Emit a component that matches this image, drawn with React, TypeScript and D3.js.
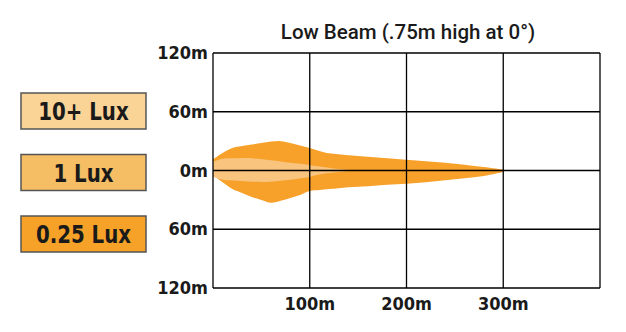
import { useEffect, useRef } from 'react';
import * as d3 from 'd3';

// distance down the road (m)
const distances = [0, 10, 20, 30, 40, 50, 60, 70, 80, 90, 100, 110, 120, 140, 160, 180, 200, 220, 240, 260, 280, 300];
// 0.25 lux outline, lateral spread (m)
const outerUpper = [11.5, 18, 23, 25, 26.5, 28, 29.5, 30, 28, 25.5, 23, 20, 17.5, 15.5, 14, 12.5, 11, 9.5, 8, 6, 3.5, 1];
const outerLower = [-4.5, -12, -19, -23, -27, -30, -33, -31, -28, -25, -21, -20, -19, -17, -16, -14.5, -13.5, -12, -10, -8, -5.5, -1.5];

// 1 lux band
const innerDistances = [0, 10, 25, 40, 60, 80, 95, 110, 125, 142];
const innerUpper = [9, 12, 12.5, 12.5, 10.5, 8, 6.5, 4, 2, 0.3];
const innerLower = [-6.5, -9.5, -10.5, -11.5, -11.5, -9.5, -7.5, -4, -2, -0.5];

const xTicks = [0, 100, 200, 300, 400];
const xTickLabels = ['', '100m', '200m', '300m', ''];
const yTicks = [120, 60, 0, -60, -120];
const yTickLabels = ['120m', '60m', '0m', '60m', '120m'];

const legendLabels = ['10+ Lux', '1 Lux', '0.25 Lux'];
const legendColors = ['#fad496', '#f5bd64', '#f6a128'];

const title = 'Low Beam (.75m high at 0\u00b0)';

export default function App() {
  const svgRef = useRef<SVGSVGElement>(null);

  useEffect(() => {
    if (!svgRef.current) return;
    d3.select(svgRef.current).selectAll('*').remove();

    const width = 626;
    const height = 332;
    const left = 213, right = 600, top = 53, bottom = 288;
    const font = '"Liberation Sans Narrow", "DejaVu Sans Condensed", Arial, sans-serif';

    const svg = d3.select(svgRef.current).attr('width', width).attr('height', height);

    svg.append('rect').attr('width', width).attr('height', height).attr('fill', '#fff');

    const x = d3.scaleLinear().domain([0, 400]).range([left, right]);
    const y = d3.scaleLinear().domain([-120, 120]).range([bottom, top]);

    const area = d3
      .area<number>()
      .x((d) => x(d))
      .curve(d3.curveCatmullRom);

    // 0.25 lux beam
    svg
      .append('path')
      .attr('fill', '#f7a12a')
      .attr('d', area.y0((_, i) => y(outerLower[i])).y1((_, i) => y(outerUpper[i]))(distances) as string);

    // 1 lux band
    svg
      .append('path')
      .attr('fill', '#f8c47e')
      .attr('d', area.y0((_, i) => y(innerLower[i])).y1((_, i) => y(innerUpper[i]))(innerDistances) as string);

    // grid
    svg
      .selectAll('line.vgrid')
      .data(xTicks)
      .join('line')
      .attr('x1', (d) => x(d))
      .attr('x2', (d) => x(d))
      .attr('y1', top)
      .attr('y2', bottom)
      .attr('stroke', '#000')
      .attr('stroke-width', 1.3);

    svg
      .selectAll('line.hgrid')
      .data(yTicks)
      .join('line')
      .attr('x1', left)
      .attr('x2', right)
      .attr('y1', (d) => y(d))
      .attr('y2', (d) => y(d))
      .attr('stroke', '#000')
      .attr('stroke-width', 1.3);

    // y labels
    svg
      .selectAll('text.ylab')
      .data(yTicks)
      .join('text')
      .attr('x', left - 5)
      .attr('y', (d) => y(d) + 6)
      .attr('text-anchor', 'end')
      .attr('font-family', font)
      .attr('font-weight', 'bold')
      .attr('font-size', 18)
      .attr('fill', '#1a1a1a')
      .text((_, i) => yTickLabels[i]);

    // x labels
    svg
      .selectAll('text.xlab')
      .data(xTicks)
      .join('text')
      .attr('x', (d) => x(d))
      .attr('y', 310)
      .attr('text-anchor', 'middle')
      .attr('font-family', font)
      .attr('font-weight', 'bold')
      .attr('font-size', 18)
      .attr('fill', '#1a1a1a')
      .text((_, i) => xTickLabels[i]);

    // title
    svg
      .append('text')
      .attr('x', 408)
      .attr('y', 39)
      .attr('text-anchor', 'middle')
      .attr('font-family', 'Roboto, "Liberation Sans", sans-serif')
      .attr('font-weight', 500)
      .attr('font-size', 20.5)
      .attr('fill', '#1a1a1a')
      .text(title);

    // legend
    const legend = svg
      .selectAll('g.legend')
      .data(legendLabels)
      .join('g')
      .attr('transform', (_, i) => `translate(21, ${93 + i * 61.5})`);

    legend
      .append('rect')
      .attr('width', 125)
      .attr('height', 36)
      .attr('fill', (_, i) => legendColors[i])
      .attr('stroke', '#555')
      .attr('stroke-width', 1.5);

    legend
      .append('text')
      .attr('transform', 'translate(62.5, 27) scale(0.88, 1)')
      .attr('text-anchor', 'middle')
      .attr('font-family', font)
      .attr('font-weight', 'bold')
      .attr('font-size', 25)
      .attr('fill', '#1a1a1a')
      .text((d) => d);
  }, []);

  return (
    <div style={{ position: 'absolute', left: 0, top: 0 }}>
      <svg ref={svgRef}></svg>
    </div>
  );
}
